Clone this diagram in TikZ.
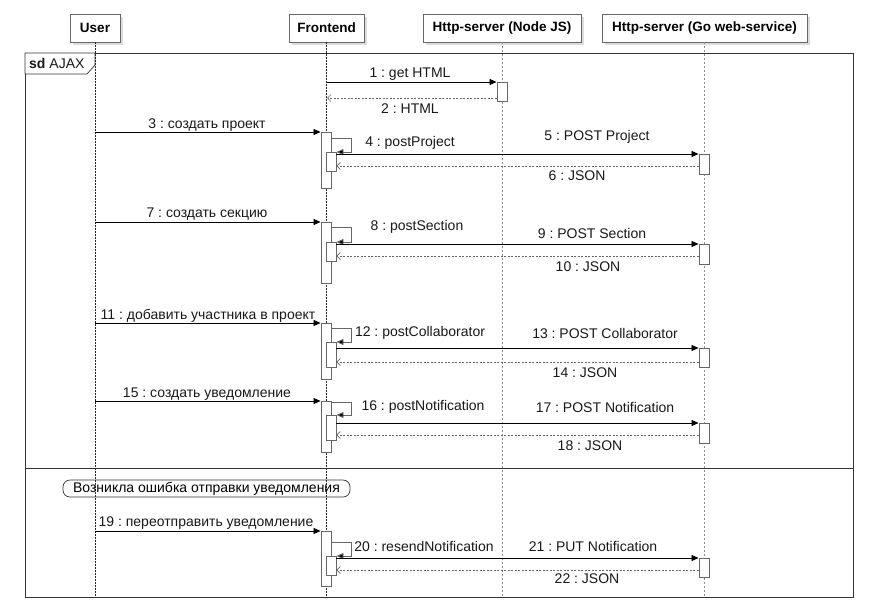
\documentclass[tikz,border=0pt]{standalone}
\usepackage{fontspec}
\setmainfont{Liberation Sans}
\usetikzlibrary{arrows.meta,shadows,calc}
\definecolor{edgegray}{HTML}{666666}
\definecolor{framegray}{HTML}{333333}
\frenchspacing
\begin{document}
\begin{tikzpicture}[x=1pt,y=-1pt,
  font=\fontsize{14}{16}\selectfont,
  head/.style={draw=edgegray, fill=white, line width=0.9pt, minimum height=28pt, inner sep=0pt,
    font=\fontsize{13.5}{16}\selectfont\bfseries,
    drop shadow={shadow xshift=3pt,shadow yshift=-3pt,opacity=0.3,fill=black!45}},
  act/.style={draw=edgegray, fill=white, line width=0.9pt, minimum width=10pt, inner sep=0pt, anchor=north},
  goact/.style={act},
  lifeA/.style={draw=black!85, line width=0.5pt, dash pattern=on 1.5pt off 1.5pt},
  lifeB/.style={draw=black!45, line width=1pt, dash pattern=on 2pt off 2pt},
  msg/.style={draw=black, line width=0.7pt, -{Triangle[length=7pt,width=6pt]}},
  ret/.style={draw=edgegray, line width=0.7pt, dash pattern=on 2pt off 1.5pt, -{Straight Barb[length=3.5pt,width=7pt]}},
  selfc/.style={draw=edgegray, line width=0.9pt, -{Triangle[length=7pt,width=6pt,fill=black]}},
  lbl/.style={inner sep=0pt, text=black!90},
  frame/.style={draw=framegray, line width=0.9pt, inner sep=0pt, anchor=north west},
  statebox/.style={draw=framegray, line width=0.7pt, rounded corners=7pt, minimum width=287pt, minimum height=17pt, inner sep=0pt}
]
\useasboundingbox (0,0) rectangle (874,613);
\fill[white] (0,0) rectangle (874,613);

% frame
\node[frame, minimum width=828pt, minimum height=544pt] (fr) at (25,53) {};
\coordinate (sep) at (25,468);
\draw[framegray, line width=0.9pt] (fr.west |- sep) -- (fr.east |- sep);
\draw[framegray, line width=0.7pt, fill=white] (25,53) -- (95,53) -- (95,65) -- (87,74) -- (25,74) -- cycle;
\node[lbl, anchor=west] (sd) at (29,63) {\textbf{sd} AJAX};

% headers
\node[head, minimum width=50pt] (user) at (95,28) {User};
\node[head, minimum width=75pt] (front) at (326.5,28) {Frontend};
\node[head, minimum width=158pt] (node) at (502,28) {Http-server (Node JS)};
\node[head, minimum width=205pt] (go) at (704.5,28) {Http-server (Go web-service)};

% lifelines
\draw[lifeA] (user.south) -- (user.south |- fr.south);
\draw[lifeA] (front.south) -- (front.south |- fr.south);
\draw[lifeB] (node.south) -- (node.south |- fr.south);
\draw[lifeB] (go.south) -- (go.south |- fr.south);

% ---------- block 0 : get HTML
\node[act, minimum height=19pt] (H1) at (502,82) {};
\coordinate (f1) at (327,82);
\coordinate (f2) at (327,98);
\draw[msg] (f1) -- (H1.north west);
\draw[ret] (H1.west |- f2) -- (f2);
\node[lbl] (l1) at (410,74) {1 : get HTML};
\node[lbl] (l2) at (410,109) {2 : HTML};

% ---------- block 1
\node[act, minimum height=56pt] (A1) at (326,132) {};
\node[act, minimum height=19pt] (N1) at (331,152) {};
\node[goact, minimum height=20pt] (G1) at (704,154) {};
\coordinate (u3) at (95,132);
\coordinate (s1) at (331,138);
\coordinate (r6) at (600,166);
\draw[msg] (u3) -- (A1.north west);
\draw[selfc] (A1.east |- s1) -| ($(N1.north east)+(15,0)$) -- (N1.north east);
\draw[msg] (N1.east |- G1.north) -- (G1.north west);
\draw[ret] (G1.west |- r6) -- (N1.east |- r6);
\node[lbl] (l3) at (207,125) {3 : создать проект};
\node[lbl] (l4) at (410,143) {4 : postProject};
\node[lbl] (l5) at (597,137) {5 : POST Project};
\node[lbl] (l6) at (577,176) {6 : JSON};

% ---------- block 2
\node[act, minimum height=61pt] (A2) at (326,222) {};
\node[act, minimum height=19pt] (N2) at (331,242) {};
\node[goact, minimum height=20pt] (G2) at (704,244) {};
\coordinate (u7) at (95,222);
\coordinate (s2) at (331,227);
\coordinate (r10) at (600,256);
\draw[msg] (u7) -- (A2.north west);
\draw[selfc] (A2.east |- s2) -| ($(N2.north east)+(15,0)$) -- (N2.north east);
\draw[msg] (N2.east |- G2.north) -- (G2.north west);
\draw[ret] (G2.west |- r10) -- (N2.east |- r10);
\node[lbl] (l7) at (207,214) {7 : создать секцию};
\node[lbl] (l8) at (417,227) {8 : postSection};
\node[lbl] (l9) at (592,233) {9 : POST Section};
\node[lbl] (l10) at (588,267) {10 : JSON};

% ---------- block 3
\node[act, minimum height=56pt] (A3) at (326,323) {};
\node[act, minimum height=25pt] (N3) at (331,342) {};
\node[goact, minimum height=19pt] (G3) at (704,348) {};
\coordinate (u11) at (95,323);
\coordinate (s3) at (331,328);
\coordinate (r14) at (600,362);
\draw[msg] (u11) -- (A3.north west);
\draw[selfc] (A3.east |- s3) -| ($(N3.north east)+(15,0)$) -- (N3.north east);
\draw[msg] (N3.east |- G3.north) -- (G3.north west);
\draw[ret] (G3.west |- r14) -- (N3.east |- r14);
\node[lbl] (l11) at (208,316) {11 : добавить участника в проект};
\node[lbl] (l12) at (420,333) {12 : postCollaborator};
\node[lbl] (l13) at (605,333) {13 : POST Collaborator};
\node[lbl] (l14) at (585,373) {14 : JSON};

% ---------- block 4
\node[act, minimum height=51pt] (A4) at (326,401) {};
\node[act, minimum height=25pt] (N4) at (331,415) {};
\node[goact, minimum height=20pt] (G4) at (704,423) {};
\coordinate (u15) at (95,401);
\coordinate (s4) at (331,402);
\coordinate (r18) at (600,435);
\draw[msg] (u15) -- (A4.north west);
\draw[selfc] (A4.east |- s4) -| ($(N4.north east)+(15,0)$) -- (N4.north east);
\draw[msg] (N4.east |- G4.north) -- (G4.north west);
\draw[ret] (G4.west |- r18) -- (N4.east |- r18);
\node[lbl] (l15) at (207,394) {15 : создать уведомление};
\node[lbl] (l16) at (423,407) {16 : postNotification};
\node[lbl] (l17) at (605,407) {17 : POST Notification};
\node[lbl] (l18) at (590,446) {18 : JSON};

% ---------- block 5
\node[statebox] (st) at (206.5,488.5) {Возникла ошибка отправки уведомления};
\node[act, minimum height=55pt] (A5) at (326,531) {};
\node[act, minimum height=19pt] (N5) at (331,556) {};
\node[goact, minimum height=19pt] (G5) at (704,558) {};
\coordinate (u19) at (95,531);
\coordinate (s5) at (331,542);
\coordinate (r22) at (600,570);
\draw[msg] (u19) -- (A5.north west);
\draw[selfc] (A5.east |- s5) -| ($(N5.north east)+(15,0)$) -- (N5.north east);
\draw[msg] (N5.east |- G5.north) -- (G5.north west);
\draw[ret] (G5.west |- r22) -- (N5.east |- r22);
\node[lbl] (l19) at (206,523) {19 : переотправить уведомление};
\node[lbl] (l20) at (424,546) {20 : resendNotification};
\node[lbl] (l21) at (593,546) {21 : PUT Notification};
\node[lbl] (l22) at (587,579) {22 : JSON};
\end{tikzpicture}
\end{document}
